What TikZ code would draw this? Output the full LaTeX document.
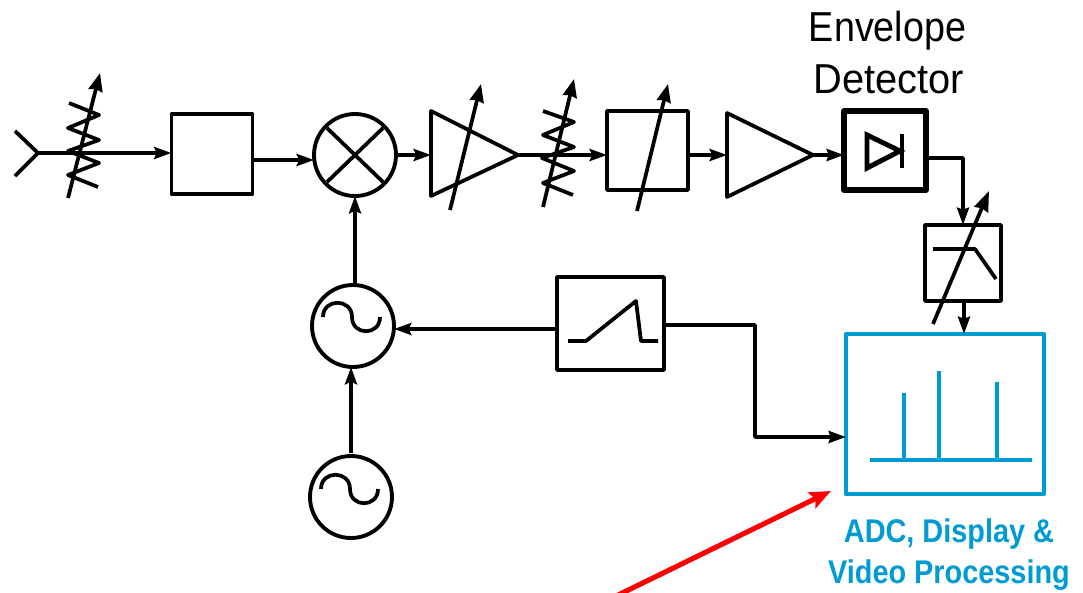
\documentclass[tikz,border=0pt]{standalone}
\usepackage{fontspec}
\usetikzlibrary{arrows.meta,calc}
\newfontfamily\lab[FakeStretch=.90]{Liberation Sans}
\newfontfamily\labw[FakeStretch=.95]{Liberation Sans}
\newfontfamily\blab[FakeStretch=.88]{Liberation Sans}
\definecolor{kblue}{RGB}{0,155,210}
\tikzset{
  px/.style={x=0.75pt,y=-0.75pt},
  ln/.style={line width=2.8pt,line join=round},
  conn/.style={ln,-{Stealth[length=13pt,width=9pt,inset=2pt]}},
  thinconn/.style={line width=2.6pt,line join=round,-{Stealth[length=13pt,width=9pt,inset=1.5pt]}},
  plain/.style={ln},
  varr/.style={line width=2.8pt,-{Stealth[length=13.5pt,width=10.5pt,inset=1pt]}},
  squarebox/.style={draw,line width=2.7pt,rectangle,inner sep=0pt,outer sep=0pt,line join=round},
  roundcirc/.style={draw,line width=2.9pt,circle,inner sep=0pt,outer sep=0pt},
  bluebox/.style={draw=kblue,line width=3.6pt,rectangle,inner sep=0pt,outer sep=0pt,line join=round},
  blueln/.style={draw=kblue,line width=2.8pt},
  redarrow/.style={draw=red,line width=3.8pt,-{Stealth[length=16pt,width=13pt,inset=3pt]}},
  envtext/.style={inner sep=0pt,anchor=base,font=\lab\fontsize{31.4}{31.4}\selectfont},
  dettext/.style={inner sep=0pt,anchor=base,font=\labw\fontsize{31.4}{31.4}\selectfont},
  bluetext/.style={inner sep=0pt,anchor=base,text=kblue,font=\blab\bfseries\fontsize{24.6}{24.6}\selectfont}
}
\begin{document}
\begin{tikzpicture}[px]
\useasboundingbox (0,0) rectangle (1083,593);
\clip (0,0) rectangle (1083,593);

% antenna
\coordinate (ant) at (38,153);
\draw[plain] (15,131) -- (ant) -- (15,176);
% resistor 1
\draw[plain] (69,103) -- (99,115) -- (68,128) -- (99,140) -- (68,151) -- (99,163) -- (68,175) -- (98,187);
\draw[varr] (68,198) -- (100,73);

% boxes and circles
\node[squarebox,minimum width=60.75pt,minimum height=60pt] (box1) at (212,154) {};
\node[roundcirc,minimum size=61.5pt] (mix) at (355,155) {};
\draw[ln] (327,128) -- (383,182) (383,128) -- (327,182);
\draw[conn] (ant) -- (ant -| box1.west);
\coordinate (b1out) at (253,160);
\draw[conn] (b1out) -- (b1out -| mix.west);

% variable amp 1
\coordinate (a1in) at (431,155);
\coordinate (a1out) at (518,155);
\draw[plain] (431,111) -- (a1out) -- (431,196) -- cycle;
\draw[varr] (450,210) -- (481,84);
\draw[conn] (mix.east) -- (a1in);

% resistor 2
\draw[plain] (543,111) -- (574,122) -- (543,135) -- (574,147) -- (542,158) -- (574,171) -- (543,183) -- (573,195);
\draw[varr] (543,207) -- (574,79);

% filter box
\node[squarebox,minimum width=60.75pt,minimum height=59.25pt] (box2) at (647.5,150.5) {};
\draw[varr] (637,211) -- (668,84);
\draw[conn] (a1out) -- (a1out -| box2.west);

% amp 2
\coordinate (a2in) at (727,155);
\coordinate (a2out) at (813,155);
\draw[plain] (727,113) -- (a2out) -- (727,197) -- cycle;
\draw[conn] (a2in -| box2.east) -- (a2in);

% detector
\node[draw,line width=3.9pt,rectangle,inner sep=0pt,outer sep=0pt,line join=round,minimum width=61.5pt,minimum height=59.25pt] (det) at (885,150.5) {};
\draw[line width=3.7pt,line join=miter] (867,135) -- (867,168) -- (900,151) -- cycle;
\draw[line width=3.7pt] (902,134) -- (902,168);
\draw[thinconn] (a2out) -- (a2out -| det.west);

\node[envtext] (t1) at (887.5,41) {Envelope};
\node[dettext] (t2) at (889,93) {Detector};

% video filter
\node[squarebox,minimum width=57pt,minimum height=57pt] (vbw) at (963,263) {};
\draw[plain] (933,249) -- (975,249) -- (996,279);
\draw[line width=2.8pt,-{Stealth[length=15pt,width=11pt,inset=1pt]}] (933,324) -- (989,191);
\coordinate (detout) at (926,158);
\draw[thinconn] (detout) -| (vbw.north);

% display
\node[bluebox,minimum width=148.5pt,minimum height=120pt] (disp) at (945,414) {};
\draw[blueln] (870,460) -- (1032,460);
\draw[blueln] (904,460) -- (904,393);
\draw[blueln] (939,460) -- (939,371);
\draw[blueln] (997,460) -- (997,382);
\coordinate (dispin) at (964,334);
\draw[thinconn] (dispin |- vbw.south) -- (dispin);

\node[bluetext] (t3) at (949,542) {ADC, Display \&};
\node[bluetext] (t4) at (949,583) {Video Processing};

% ramp
\node[squarebox,minimum width=80.25pt,minimum height=69.75pt] (ramp) at (610.5,323.5) {};
\draw[plain] (568,341) -- (586,341) -- (636,301) -- (641,341) -- (658,341);

% LOs
\node[roundcirc,minimum size=61.5pt] (lo1) at (353,326) {};
\node[roundcirc,minimum size=61.5pt] (lo2) at (351,497) {};
\draw[plain] (323,317) .. controls (323,298) and (352,298) .. (352,317) .. controls (352,336) and (380,336) .. (380,317);
\draw[plain] (321,489) .. controls (321,470) and (350,470) .. (350,489) .. controls (350,508) and (378,508) .. (378,489);

\draw[conn] (lo1.north -| mix.south) -- (mix.south);
\draw[conn] ([yshift=2.25pt]lo2.north) -- (lo2.north |- lo1.south);
\coordinate (rampin) at (557,329);
\draw[conn] (rampin) -- (rampin -| lo1.east);
\coordinate (jog) at (755,325);
\draw[thinconn] (jog -| ramp.east) -- (jog) |- ([yshift=-17.25pt]disp.west);

% red arrow
\coordinate (redtail) at (612,598);
\coordinate (redtip) at (831,491);
\draw[redarrow] (redtail) -- (redtip);
\end{tikzpicture}
\end{document}
